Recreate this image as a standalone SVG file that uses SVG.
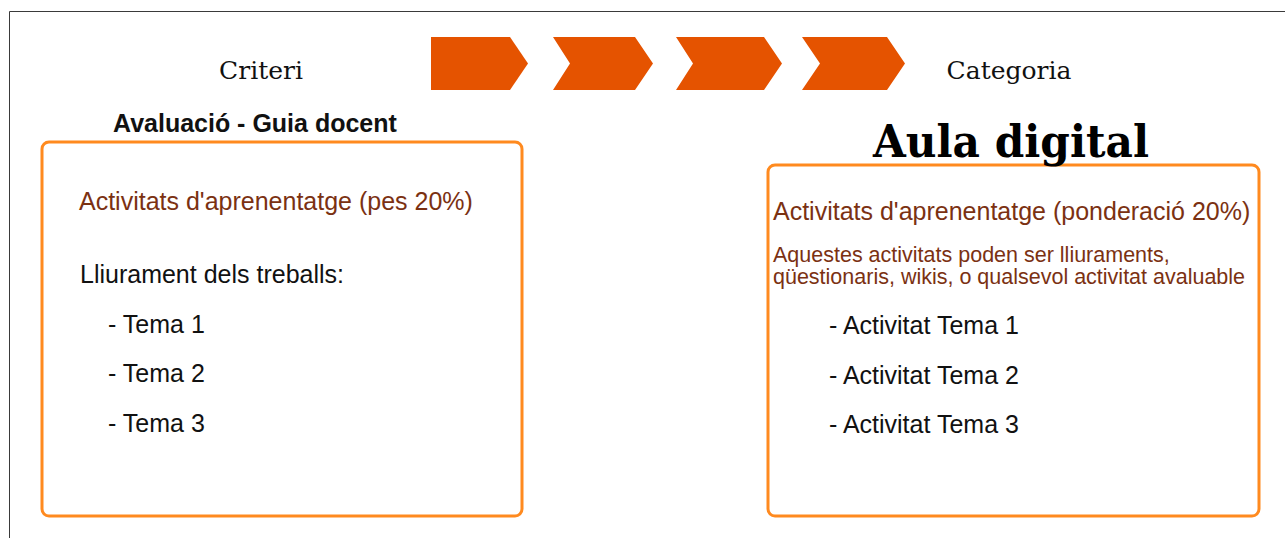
<svg xmlns="http://www.w3.org/2000/svg" width="1285" height="538" viewBox="0 0 1285 538">
<style>
.frame{stroke:#3a3a3a;stroke-width:1;fill:none}
.chev{fill:#e55300}
.box{fill:#ffffff;stroke:#ff8a1f;stroke-width:3}
.serif{font-family:"DejaVu Serif","Liberation Serif",serif;fill:#111}
.sans{font-family:"Liberation Sans",Arial,sans-serif}
.brown{fill:#7b3112}
.dark{fill:#111}
</style>
<rect width="1285" height="538" fill="#ffffff"/>
<g id="frame">
<path class="frame" d="M9.5,538 V11.5 H1285"/>
</g>
<g id="chevrons">
<polygon class="chev" points="431,37 510,37 528,63.5 510,90 431,90"/>
<polygon class="chev" points="553,37 635,37 653,63.5 635,90 553,90 570,63.5"/>
<polygon class="chev" points="676,37 764,37 782,63.5 764,90 676,90 693,63.5"/>
<polygon class="chev" points="802,37 887,37 905,63.5 887,90 802,90 820,63.5"/>
</g>
<g id="label-criteri">
<text class="serif" x="261" y="79" font-size="25" text-anchor="middle">Criteri</text>
</g>
<g id="label-categoria">
<text class="serif" x="1009" y="79" font-size="25" text-anchor="middle">Categoria</text>
</g>
<g id="node-guia">
<text class="sans dark" x="113" y="132" font-size="25" font-weight="bold">Avaluació - Guia docent</text>
<rect class="box" x="42" y="142" width="480" height="374" rx="7"/>
<text class="sans brown" x="79" y="210" font-size="25">Activitats d'aprenentatge (pes 20%)</text>
<text class="sans dark" x="80" y="283" font-size="25">Lliurament dels treballs:</text>
<text class="sans dark" x="108" y="333" font-size="25">- Tema 1</text>
<text class="sans dark" x="108" y="382" font-size="25">- Tema 2</text>
<text class="sans dark" x="108" y="432" font-size="25">- Tema 3</text>
</g>
<g id="node-aula">
<rect class="box" x="768" y="165" width="491" height="351" rx="7"/>
<text class="serif" x="873" y="157" font-size="44" font-weight="bold" textLength="276" lengthAdjust="spacingAndGlyphs" style="fill:#000">Aula digital</text>
<text class="sans brown" x="773" y="220" font-size="25">Activitats d'aprenentatge (ponderació 20%)</text>
<text class="sans brown" x="773" y="262" font-size="21.5">Aquestes activitats poden ser lliuraments,</text>
<text class="sans brown" x="773" y="284" font-size="21.5">qüestionaris, wikis, o qualsevol activitat avaluable</text>
<text class="sans dark" x="829" y="334" font-size="25">- Activitat Tema 1</text>
<text class="sans dark" x="829" y="384" font-size="25">- Activitat Tema 2</text>
<text class="sans dark" x="829" y="433" font-size="25">- Activitat Tema 3</text>
</g>
<g id="connectors"></g>
</svg>
